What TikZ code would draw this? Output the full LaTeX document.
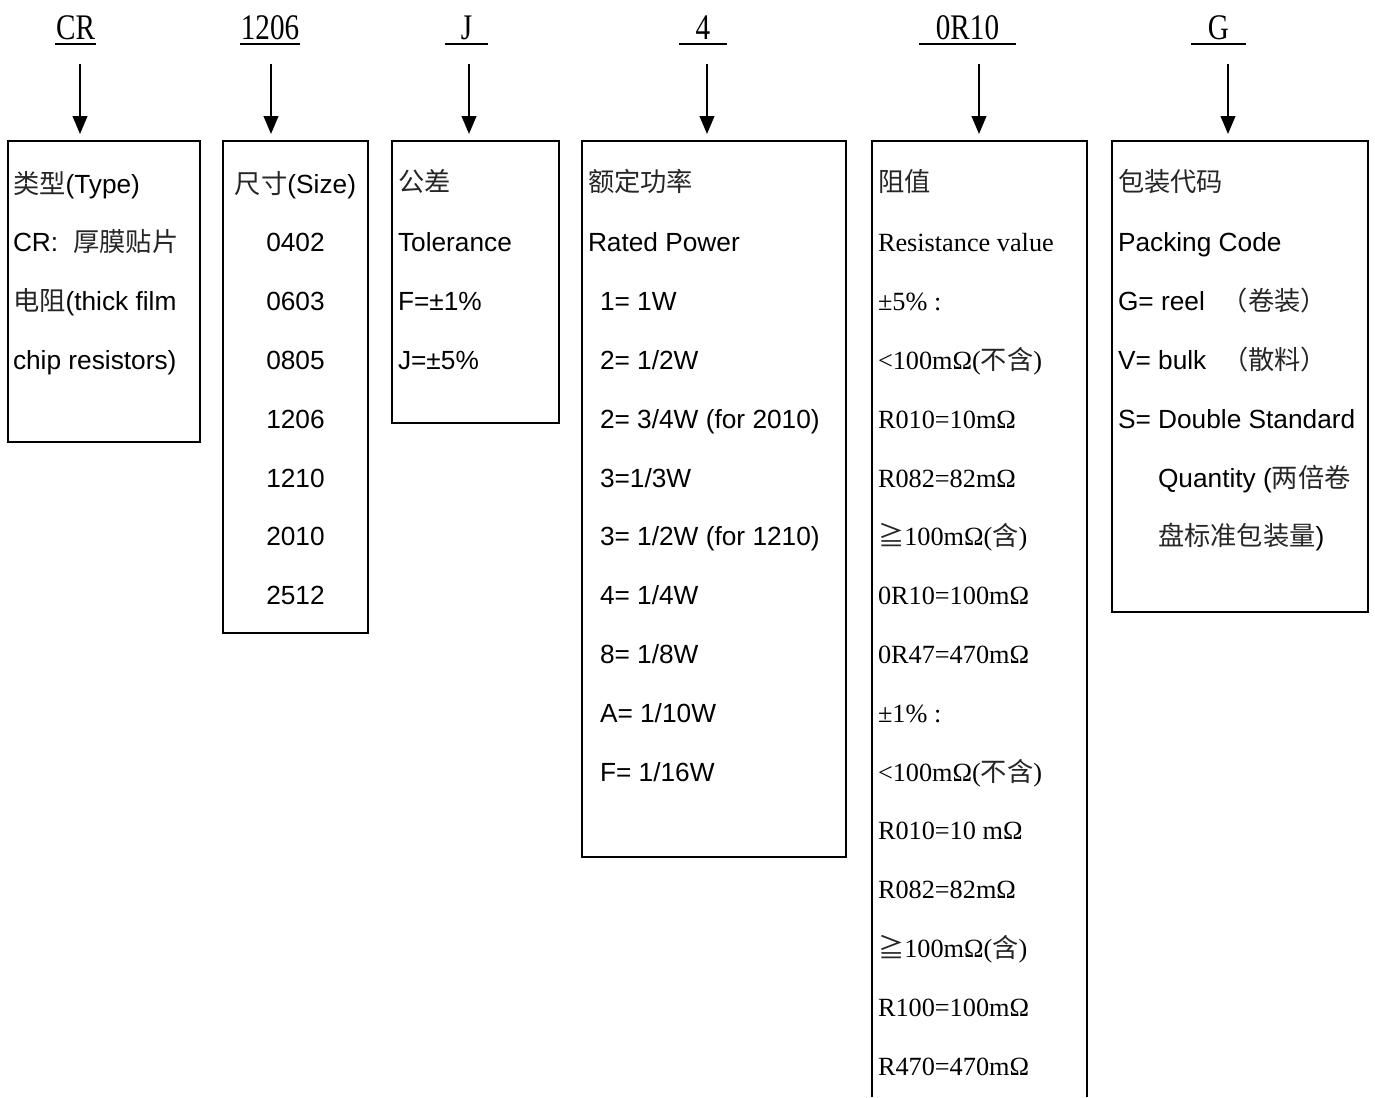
\documentclass[tikz,border=0pt]{standalone}
\usepackage{fontspec}
\setmainfont{Liberation Sans}
\newfontfamily\cjk{Noto Sans CJK SC}
\newfontfamily\tms{Liberation Serif}
\newfontfamily\ttl[FakeStretch=0.81]{Liberation Serif}
\usetikzlibrary{arrows.meta}
\newcommand\C[1]{{\cjk\color{black!85}#1}}
\begin{document}
\begin{tikzpicture}[x=0.75pt,y=-0.75pt,
  box/.style={draw, line width=1.2pt, inner sep=0pt, outer sep=0pt},
  txt/.style={anchor=base west, inner sep=0pt, outer sep=0pt, font=\fontsize{19.7pt}{23pt}\selectfont},
  ctxt/.style={txt, anchor=base},
  stxt/.style={txt, font=\fontsize{19.7pt}{23pt}\selectfont\tms},
  title/.style={anchor=base, inner sep=0pt, outer sep=0pt, font=\fontsize{27pt}{30pt}\selectfont\ttl},
  uline/.style={line width=1.6pt},
  arr/.style={line width=1.5pt, -{Triangle[length=13.5pt,width=11pt]}, shorten >=5.25pt}
]
\useasboundingbox (0,0) rectangle (1375,1097);

% titles
\node[title, minimum width=30.75pt] (tCR) at (75.5,39) {CR};
\node[title, minimum width=45pt] (tSZ) at (270,39) {1206};
\node[title, minimum width=32.25pt] (tTL) at (466.5,39) {J};
\node[title, minimum width=36pt] (tPW) at (703,39) {4};
\node[title, minimum width=72.75pt] (tRV) at (967.5,39) {0R10};
\node[title, minimum width=41.25pt] (tPK) at (1218.5,39) {G};
\foreach \n in {tCR,tSZ,tTL,tPW,tRV,tPK}
  \draw[uline] ([yshift=-3.5pt]\n.base west) -- ([yshift=-3.5pt]\n.base east);

% boxes
\node[box, minimum width=144pt, minimum height=225.75pt] (b1) at (104,291.5) {};
\node[box, minimum width=108.75pt, minimum height=369pt] (b2) at (295.5,387) {};
\node[box, minimum width=125.25pt, minimum height=211.5pt] (b3) at (475.5,282) {};
\node[box, minimum width=198pt, minimum height=537pt] (b4) at (714,499) {};
\node[box, draw=none, minimum width=161.25pt, minimum height=717pt] (b5) at (979.5,619) {};
\draw[line width=1.2pt] (b5.south west) -- (b5.north west) -- (b5.north east) -- (b5.south east);
\node[box, minimum width=192pt, minimum height=353.25pt] (b6) at (1240,376.5) {};

% arrows
\coordinate (a1) at (80,64);
\coordinate (a2) at (271,64);
\coordinate (a3) at (469,64);
\coordinate (a4) at (707,64);
\coordinate (a5) at (979,64);
\coordinate (a6) at (1228,64);
\draw[arr] (a1) -- (a1 |- b1.north);
\draw[arr] (a2) -- (a2 |- b2.north);
\draw[arr] (a3) -- (a3 |- b3.north);
\draw[arr] (a4) -- (a4 |- b4.north);
\draw[arr] (a5) -- (a5 |- b5.north);
\draw[arr] (a6) -- (a6 |- b6.north);

% Type box
\node[txt] (ty0) at (13,{193+58.8*0}) {\C{类型}(Type)};
\node[txt] (ty1) at (13,{193+58.8*1}) {CR:\hspace{0.57em}\C{厚膜贴片}};
\node[txt] (ty2) at (13,{193+58.8*2}) {\C{电阻}(thick film};
\node[txt] (ty3) at (13,{193+58.8*3}) {chip resistors)};

% Size box
\node[ctxt] (sz0) at (295.5,{193+58.8*0}) {\C{尺寸}(Size)};
\node[ctxt] (sz1) at (295.5,{193+58.8*1}) {0402};
\node[ctxt] (sz2) at (295.5,{193+58.8*2}) {0603};
\node[ctxt] (sz3) at (295.5,{193+58.8*3}) {0805};
\node[ctxt] (sz4) at (295.5,{193+58.8*4}) {1206};
\node[ctxt] (sz5) at (295.5,{193+58.8*5}) {1210};
\node[ctxt] (sz6) at (295.5,{193+58.8*6}) {2010};
\node[ctxt] (sz7) at (295.5,{193+58.8*7}) {2512};

% Tolerance box
\node[txt] (tl0) at (398,{191+58.8*0}) {\C{公差}};
\node[txt] (tl1) at (398,{193+58.8*1}) {Tolerance};
\node[txt] (tl2) at (398,{193+58.8*2}) {F=±1\%};
\node[txt] (tl3) at (398,{193+58.8*3}) {J=±5\%};

% Power box
\node[txt] (pw0) at (588,{191+58.8*0}) {\C{额定功率}};
\node[txt] (pw1) at (588,{193+58.8*1}) {Rated Power};
\node[txt] (pw2) at (600,{193+58.8*2}) {1= 1W};
\node[txt] (pw3) at (600,{193+58.8*3}) {2= 1/2W};
\node[txt] (pw4) at (600,{193+58.8*4}) {2= 3/4W (for 2010)};
\node[txt] (pw5) at (600,{193+58.8*5}) {3=1/3W};
\node[txt] (pw6) at (600,{193+58.8*6}) {3= 1/2W (for 1210)};
\node[txt] (pw7) at (600,{193+58.8*7}) {4= 1/4W};
\node[txt] (pw8) at (600,{193+58.8*8}) {8= 1/8W};
\node[txt] (pw9) at (600,{193+58.8*9}) {A= 1/10W};
\node[txt] (pw10) at (600,{193+58.8*10}) {F= 1/16W};

% Resistance box
\node[stxt] (rv0) at (878,{191+58.8*0}) {\C{阻值}};
\node[stxt] (rv1) at (878,{193+58.8*1}) {Resistance value};
\node[stxt] (rv2) at (878,{193+58.8*2}) {±5\% :};
\node[stxt] (rv3) at (878,{193+58.8*3}) {<100mΩ(\C{不含})};
\node[stxt] (rv4) at (878,{193+58.8*4}) {R010=10mΩ};
\node[stxt] (rv5) at (878,{193+58.8*5}) {R082=82mΩ};
\node[stxt] (rv6) at (878,{193+58.8*6}) {\C{≧}100mΩ(\C{含})};
\node[stxt] (rv7) at (878,{193+58.8*7}) {0R10=100mΩ};
\node[stxt] (rv8) at (878,{193+58.8*8}) {0R47=470mΩ};
\node[stxt] (rv9) at (878,{193+58.8*9}) {±1\% :};
\node[stxt] (rv10) at (878,{193+58.8*10}) {<100mΩ(\C{不含})};
\node[stxt] (rv11) at (878,{193+58.8*11}) {R010=10 mΩ};
\node[stxt] (rv12) at (878,{193+58.8*12}) {R082=82mΩ};
\node[stxt] (rv13) at (878,{193+58.8*13}) {\C{≧}100mΩ(\C{含})};
\node[stxt] (rv14) at (878,{193+58.8*14}) {R100=100mΩ};
\node[stxt] (rv15) at (878,{193+58.8*15}) {R470=470mΩ};

% Packing box
\node[txt] (pk0) at (1118,{191+58.8*0}) {\C{包装代码}};
\node[txt] (pk1) at (1118,{193+58.8*1}) {Packing Code};
\node[txt] (pk2) at (1118,{193+58.8*2}) {G= reel\hspace{0.65em}\C{（卷装）}};
\node[txt] (pk3) at (1118,{193+58.8*3}) {V= bulk\hspace{0.6em}\C{（散料）}};
\node[txt] (pk4) at (1118,{193+58.8*4}) {S= Double Standard};
\node[txt] (pk5) at (1158,{193+58.8*5}) {Quantity (\C{两倍卷}};
\node[txt] (pk6) at (1158,{193+58.8*6}) {\C{盘标准包装量})};
\end{tikzpicture}
\end{document}
